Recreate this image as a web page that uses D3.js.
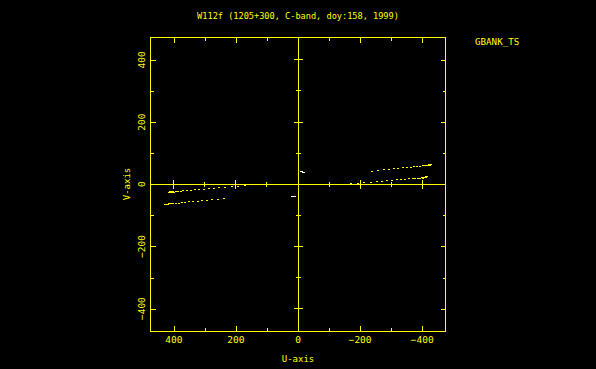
<!DOCTYPE html>
<html lang="en">
<head>
<meta charset="utf-8">
<title>W112f UV coverage</title>
<style>
  body { margin: 0; background: #000; }
  svg { display: block; }
  line, rect { shape-rendering: crispEdges; }
  text { fill: #ffff00; font-family: "DejaVu Sans Mono", monospace; }
</style>
</head>
<body>
<svg id="chart" width="596" height="369"></svg>
<script src="https://d3js.org/d3.v7.min.js"></script>
<script>
// chart text
var title = "W112f (1205+300, C-band, doy:158, 1999)";
var stationLabel = "GBANK_TS";
var majorTicks = [-400, -200, 0, 200, 400];
var minorTicks = [-300, -100, 100, 300];

// yellow tracks (u, v)
var trackAu = [-238, -257, -277, -293, -309, -323, -338, -350, -363, -373, -384, -392, -401, -408, -415, -420, -426, -422, -426, -429];
var trackAv = [43.7, 46, 48, 49.5, 51, 52.4, 54, 55.3, 56.6, 57.6, 58.8, 59.5, 60.5, 61, 61.7, 62.4, 63, 64, 64.3, 64.5];
var trackBu = [-172, -192, -214, -234, -253, -272, -288, -304, -320, -333, -346, -359, -369, -378, -388, -394, -401, -407, -412, -398, -402, -405, -408, -411, -414, -416, -404, -410];
var trackBv = [3.2, 4.9, 6.7, 8.4, 10, 11.6, 12.9, 14.2, 15.6, 16.6, 17.7, 18.8, 19.7, 20.4, 21.2, 21.7, 22.3, 22.8, 23.2, 24.5, 24.6, 24.8, 24.9, 25.1, 25.2, 25.3, 21.6, 22.2];
var trackCu = [238, 257, 277, 293, 309, 323, 338, 350, 363, 373, 384, 392, 401, 408, 415, 420, 426, 422, 426, 429];
var trackCv = [-43.7, -46, -48, -49.5, -51, -52.4, -54, -55.3, -56.6, -57.6, -58.8, -59.5, -60.5, -61, -61.7, -62.4, -63, -64, -64.3, -64.5];
var trackDu = [172, 192, 214, 234, 253, 272, 288, 304, 320, 333, 346, 359, 369, 378, 388, 394, 401, 407, 412, 398, 402, 405, 408, 411, 414, 416, 404, 410];
var trackDv = [-3.2, -4.9, -6.7, -8.4, -10, -11.6, -12.9, -14.2, -15.6, -16.6, -17.7, -18.8, -19.7, -20.4, -21.2, -21.7, -22.3, -22.8, -23.2, -24.5, -24.6, -24.8, -24.9, -25.1, -25.2, -25.3, -21.6, -22.2];

// white short baselines
var whiteU = [-11, -13, -15, -17, -19, 11, 13, 15, 17, 19];
var whiteV = [41.5, 41.3, 39.5, 39.2, 39, -38.5, -38.3, -37, -36.8, -36.6];

var svg = d3.select("#chart");
var x = d3.scaleLinear().domain([475, -475]).range([150.5, 445.5]);
var y = d3.scaleLinear().domain([-472, 472]).range([331, 37.5]);
var yellow = "#ffff00";

// frame
svg.append("rect")
    .attr("x", x(475)).attr("y", y(472))
    .attr("width", x(-475) - x(475)).attr("height", y(-472) - y(472))
    .attr("fill", "none").attr("stroke", yellow).attr("stroke-width", 1);

// inward frame ticks
function frameTicks(axisFn, tr, scale, vals, len) {
    svg.append("g")
        .attr("transform", tr)
        .call(axisFn(scale).tickValues(vals).tickSize(len).tickFormat(""))
        .call(g => g.select(".domain").remove())
        .selectAll("line").attr("stroke", yellow);
}
[[majorTicks, 5], [minorTicks, 3]].forEach(function(t) {
    frameTicks(d3.axisTop, "translate(0," + y(-472) + ")", x, t[0], t[1]);
    frameTicks(d3.axisBottom, "translate(0," + y(472) + ")", x, t[0], t[1]);
    frameTicks(d3.axisRight, "translate(" + x(475) + ",0)", y, t[0], t[1]);
    frameTicks(d3.axisLeft, "translate(" + x(-475) + ",0)", y, t[0], t[1]);
});

// zero lines with crossing ticks
svg.append("line").attr("x1", x(475)).attr("x2", x(-475)).attr("y1", y(0)).attr("y2", y(0)).attr("stroke", yellow);
svg.append("line").attr("x1", x(0)).attr("x2", x(0)).attr("y1", y(472)).attr("y2", y(-472)).attr("stroke", yellow);
var cross = majorTicks.filter(d => d !== 0).map(d => [d, 4.5]).concat(minorTicks.map(d => [d, 2.5]));
svg.selectAll(".xcross").data(cross).enter().append("line")
    .attr("x1", d => x(d[0])).attr("x2", d => x(d[0]))
    .attr("y1", d => y(0) - d[1]).attr("y2", d => y(0) + d[1])
    .attr("stroke", yellow);
svg.selectAll(".ycross").data(cross).enter().append("line")
    .attr("y1", d => y(d[0])).attr("y2", d => y(d[0]))
    .attr("x1", d => x(0) - d[1]).attr("x2", d => x(0) + d[1])
    .attr("stroke", yellow);

function fmt(d) { return d < 0 ? "\u2212" + Math.abs(d) : String(d); }

// tick labels
svg.selectAll(".xl").data(majorTicks).enter().append("text")
    .attr("x", d => x(d)).attr("y", 343)
    .attr("text-anchor", "middle").attr("font-size", 9.5)
    .text(fmt);
svg.selectAll(".yl").data(majorTicks).enter().append("text")
    .attr("transform", d => "translate(145," + y(d) + ") rotate(-90)")
    .attr("text-anchor", "middle").attr("font-size", 9.5)
    .text(fmt);

// titles
svg.append("text").attr("x", 298).attr("y", 19).attr("text-anchor", "middle")
    .attr("font-size", 8.6).text(title);
svg.append("text").attr("x", 298).attr("y", 362).attr("text-anchor", "middle")
    .attr("font-size", 9).text("U-axis");
svg.append("text").attr("transform", "translate(130,184) rotate(-90)").attr("text-anchor", "middle")
    .attr("font-size", 9).text("V-axis");
svg.append("text").attr("x", 475).attr("y", 45).attr("font-size", 9.2).text(stationLabel);

// points
var yellowPts = [];
[[trackAu, trackAv], [trackBu, trackBv], [trackCu, trackCv], [trackDu, trackDv]].forEach(function(t) {
    t[0].forEach((u, i) => yellowPts.push({u: u, v: t[1][i]}));
});
svg.append("g").selectAll("rect").data(yellowPts).enter().append("rect")
    .attr("x", d => Math.round(x(d.u)) - 1).attr("y", d => Math.round(y(d.v)))
    .attr("width", 2).attr("height", 1)
    .attr("fill", yellow);

var whitePts = whiteU.map((u, i) => ({u: u, v: whiteV[i]}));
svg.append("g").selectAll("rect").data(whitePts).enter().append("rect")
    .attr("x", d => Math.round(x(d.u)) - 1).attr("y", d => Math.round(y(d.v)))
    .attr("width", 2).attr("height", 1)
    .attr("fill", "#ffffff");
</script>
</body>
</html>
